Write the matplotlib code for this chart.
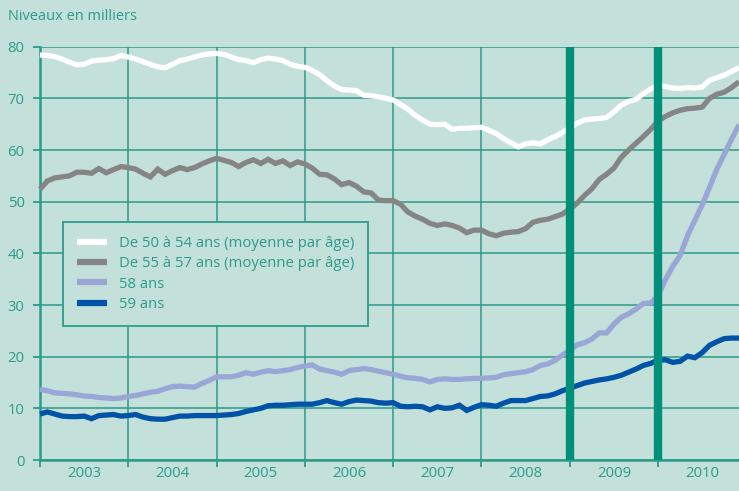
import matplotlib
matplotlib.use("Agg")
import matplotlib.pyplot as plt
import numpy as np

# ---- data (monthly, Jan 2003 .. Dec 2010) ----
years = ["2003", "2004", "2005", "2006", "2007", "2008", "2009", "2010"]
series_labels = ["De 50 à 54 ans (moyenne par âge)",
                 "De 55 à 57 ans (moyenne par âge)",
                 "58 ans", "59 ans"]

s50_54 = [78.4, 78.3, 78.1, 77.6, 77.0, 76.5, 76.6, 77.2, 77.4, 77.5, 77.7, 78.3,
          78.0, 77.6, 77.1, 76.6, 76.1, 75.9, 76.6, 77.3, 77.6, 78.0, 78.4, 78.6,
          78.7, 78.5, 78.0, 77.5, 77.3, 76.9, 77.5, 77.8, 77.6, 77.3, 76.6, 76.2,
          76.0, 75.4, 74.6, 73.4, 72.4, 71.7, 71.6, 71.5, 70.6, 70.5, 70.3, 70.0,
          69.7, 68.8, 67.9, 66.7, 65.8, 65.0, 64.9, 65.0, 64.0, 64.2, 64.2, 64.3,
          64.4, 63.8, 63.2, 62.2, 61.4, 60.6, 61.2, 61.4, 61.2, 62.0, 62.6, 63.4,
          64.3, 65.2, 65.8, 66.0, 66.1, 66.3, 67.4, 68.7, 69.4, 69.8, 70.9, 71.8,
          72.4, 72.3, 72.0, 71.9, 72.1, 72.0, 72.2, 73.5, 74.0, 74.5, 75.2, 76.0]

s55_57 = [52.4, 54.0, 54.6, 54.8, 55.0, 55.7, 55.7, 55.5, 56.4, 55.6, 56.2, 56.8,
          56.6, 56.3, 55.5, 54.8, 56.3, 55.3, 56.0, 56.6, 56.2, 56.6, 57.3, 57.9,
          58.4, 58.0, 57.6, 56.8, 57.6, 58.1, 57.4, 58.2, 57.4, 57.9, 57.0, 57.7,
          57.3, 56.5, 55.3, 55.2, 54.4, 53.3, 53.7, 53.0, 51.9, 51.7, 50.3, 50.2,
          50.2, 49.5, 48.0, 47.2, 46.6, 45.8, 45.4, 45.7, 45.4, 44.9, 44.0, 44.5,
          44.5, 43.8, 43.4, 43.9, 44.1, 44.2, 44.8, 46.0, 46.4, 46.6, 47.1, 47.6,
          48.6, 49.7, 51.2, 52.5, 54.3, 55.3, 56.5, 58.6, 60.0, 61.3, 62.6, 64.0,
          65.6, 66.5, 67.2, 67.7, 68.0, 68.1, 68.3, 70.0, 70.8, 71.2, 72.1, 73.2]

s58 = [13.7, 13.4, 13.0, 12.9, 12.8, 12.6, 12.4, 12.3, 12.1, 12.0, 11.9, 12.0,
       12.3, 12.5, 12.8, 13.1, 13.3, 13.8, 14.2, 14.3, 14.2, 14.1, 14.8, 15.4,
       16.1, 16.1, 16.1, 16.4, 16.9, 16.6, 17.0, 17.3, 17.1, 17.3, 17.5, 17.9,
       18.2, 18.4, 17.6, 17.3, 17.0, 16.6, 17.3, 17.5, 17.7, 17.5, 17.2, 16.9,
       16.6, 16.2, 15.9, 15.8, 15.6, 15.1, 15.6, 15.7, 15.6, 15.6, 15.7, 15.8,
       15.8, 15.9, 16.0, 16.5, 16.7, 16.9, 17.1, 17.5, 18.3, 18.6, 19.3, 20.3,
       21.3, 22.3, 22.7, 23.4, 24.6, 24.6, 26.3, 27.6, 28.3, 29.2, 30.3, 30.4,
       31.8, 34.9, 37.5, 39.6, 43.4, 46.4, 49.4, 52.8, 56.3, 59.2, 62.1, 64.9]

s59 = [8.9, 9.3, 8.9, 8.5, 8.4, 8.4, 8.5, 8.0, 8.6, 8.7, 8.8, 8.5,
       8.6, 8.8, 8.3, 8.0, 7.9, 7.9, 8.2, 8.5, 8.5, 8.6, 8.6, 8.6,
       8.6, 8.7, 8.8, 9.0, 9.4, 9.7, 10.0, 10.5, 10.6, 10.6, 10.7, 10.8,
       10.8, 10.8, 11.1, 11.5, 11.1, 10.8, 11.3, 11.6, 11.5, 11.4, 11.1, 11.0,
       11.1, 10.4, 10.3, 10.4, 10.3, 9.7, 10.3, 10.0, 10.1, 10.6, 9.6, 10.2,
       10.7, 10.6, 10.4, 11.0, 11.5, 11.5, 11.5, 11.9, 12.3, 12.4, 12.8, 13.4,
       13.9, 14.4, 14.9, 15.2, 15.5, 15.7, 16.0, 16.4, 17.0, 17.6, 18.3, 18.7,
       19.3, 19.4, 18.9, 19.1, 20.1, 19.8, 20.8, 22.2, 22.9, 23.5, 23.6, 23.6]

event_months = [72, 84]   # Jan 2009, Jan 2010 markers

# ---- style ----
bg = "#c4e0da"
teal = "#2b9c8a"
bar_col = "#009079"
colors = ["#ffffff", "#858585", "#9aa6d6", "#0053a6"]
plt.rcParams["font.family"] = ["Open Sans", "DejaVu Sans"]

fig = plt.figure(figsize=(7.39, 4.91), dpi=100, facecolor=bg)
ax = fig.add_axes([40 / 739, 1 - 460 / 491, 1 - 40 / 739, (460 - 46.7) / 491])
ax.set_facecolor(bg)

months = np.arange(len(s50_54))
for vals, col, lab in zip([s50_54, s55_57, s58, s59], colors, series_labels):
    ax.plot(months, vals, color=col, lw=3.8, label=lab, zorder=3,
            solid_capstyle="butt", solid_joinstyle="miter", clip_on=False)

for m in event_months:
    ax.plot([m, m], [0, 80], color=bar_col, lw=6.0, zorder=4,
            solid_capstyle="butt")

ax.set_xlim(0, len(s50_54) - 1)
ax.set_ylim(0, 80)

ax.set_yticks(np.arange(0, 81, 10))
ax.set_xticks(np.arange(0, 96, 12))
ax.set_xticklabels([])
ax.set_xticks(np.arange(6, 96, 12), minor=True)
ax.set_xticklabels(years, minor=True)

ax.grid(True, which="major", color=teal, lw=1.1, zorder=1)
ax.set_axisbelow(True)

ax.tick_params(axis="y", which="major", colors=teal, labelcolor=teal,
               length=5, width=1.3, pad=6, labelsize=10.7)
ax.tick_params(axis="x", which="major", colors=teal, length=5, width=1.3,
               direction="out")
ax.tick_params(axis="x", which="minor", length=0, labelcolor=teal,
               labelsize=10.7, pad=4)

for side in ["top", "right"]:
    ax.spines[side].set_visible(False)
for side in ["left", "bottom"]:
    ax.spines[side].set_color(teal)
    ax.spines[side].set_linewidth(1.8)

fig.text(8 / 739, 1 - 17 / 491, "Niveaux en milliers", color=teal,
         fontsize=10.5, ha="left", va="center")

leg = ax.legend(loc="upper left", bbox_to_anchor=(63 / 739, 1 - 222 / 491),
                bbox_transform=fig.transFigure, borderaxespad=0,
                frameon=True, fancybox=False, fontsize=10.7,
                handlelength=2.0, handletextpad=0.8, labelspacing=0.35,
                borderpad=0.95)
leg.get_frame().set_facecolor(bg)
leg.get_frame().set_edgecolor(teal)
leg.get_frame().set_linewidth(1.3)
leg.get_frame().set_alpha(1)
leg.set_zorder(10)
for t in leg.get_texts():
    t.set_color(teal)
for h in leg.get_lines():
    h.set_linewidth(4.5)

fig.savefig("out.png", dpi=100, facecolor=bg)
